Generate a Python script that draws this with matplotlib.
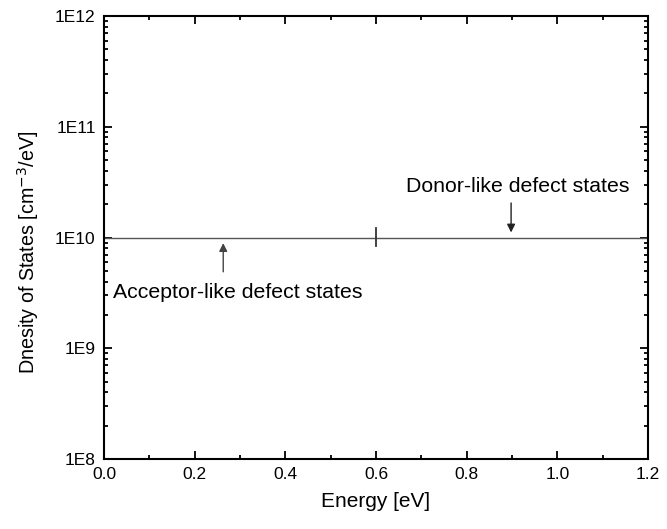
import matplotlib
matplotlib.use("Agg")
from matplotlib import pyplot as plt
from matplotlib.ticker import LogLocator, MultipleLocator, FixedFormatter, FixedLocator
import numpy as np

plt.rcParams['font.family'] = ['Liberation Sans', 'DejaVu Sans']

# data
energy = [0.0, 1.2]
dos = [1e10, 1e10]
midgap = 0.6
midgap_span = [8.4e9, 1.22e10]
y_ticks = [1e8, 1e9, 1e10, 1e11, 1e12]
y_labels = ['1E8', '1E9', '1E10', '1E11', '1E12']

acceptor_arrow = (0.263, 4.9e9, 8.9e9)   # x, tail y, head y
donor_arrow = (0.898, 2.05e10, 1.11e10)
acceptor_text = (0.295, 3.2e9, 'Acceptor-like defect states')
donor_text = (0.913, 2.9e10, 'Donor-like defect states')

fig = plt.figure(figsize=(6.67, 5.29), dpi=100)
ax = fig.add_axes([104/667, 70/529, 544/667, 443/529])

ax.plot(energy, dos, color='#555555', lw=1.0)
ax.plot([midgap, midgap], midgap_span, color='#333333', lw=1.3)

ax.annotate('', xy=(acceptor_arrow[0], acceptor_arrow[2]), xytext=(acceptor_arrow[0], acceptor_arrow[1]),
            arrowprops=dict(arrowstyle='-|>', color='#444444', lw=1.0, mutation_scale=12, shrinkA=0, shrinkB=0))
ax.annotate('', xy=(donor_arrow[0], donor_arrow[2]), xytext=(donor_arrow[0], donor_arrow[1]),
            arrowprops=dict(arrowstyle='-|>', color='#222222', lw=1.0, mutation_scale=12, shrinkA=0, shrinkB=0))
ax.text(acceptor_text[0], acceptor_text[1], acceptor_text[2], ha='center', va='center', fontsize=15.3)
ax.text(donor_text[0], donor_text[1], donor_text[2], ha='center', va='center', fontsize=15.3)

ax.set_yscale('log')
ax.set_xlim(0, 1.2)
ax.set_ylim(1e8, 1e12)
ax.xaxis.set_major_locator(MultipleLocator(0.2))
ax.xaxis.set_minor_locator(MultipleLocator(0.1))
ax.yaxis.set_major_locator(FixedLocator(y_ticks))
ax.yaxis.set_major_formatter(FixedFormatter(y_labels))
ax.yaxis.set_minor_locator(LogLocator(base=10, subs=np.arange(2, 10)))
ax.yaxis.set_minor_formatter(plt.NullFormatter())

ax.tick_params(which='both', direction='in', top=True, right=True, labelsize=12.5, width=1.3)
ax.tick_params(which='major', length=6, pad=6)
ax.tick_params(which='minor', length=3)
for s in ax.spines.values():
    s.set_linewidth(1.5)

ax.set_xlabel('Energy [eV]', fontsize=15, labelpad=7)
ax.set_ylabel('Dnesity of States [cm$^{\\mathsf{-3}}$/eV]', fontsize=14.2)
ax.yaxis.set_label_coords(-0.116, 0.467)

fig.savefig('out.png', dpi=100)
